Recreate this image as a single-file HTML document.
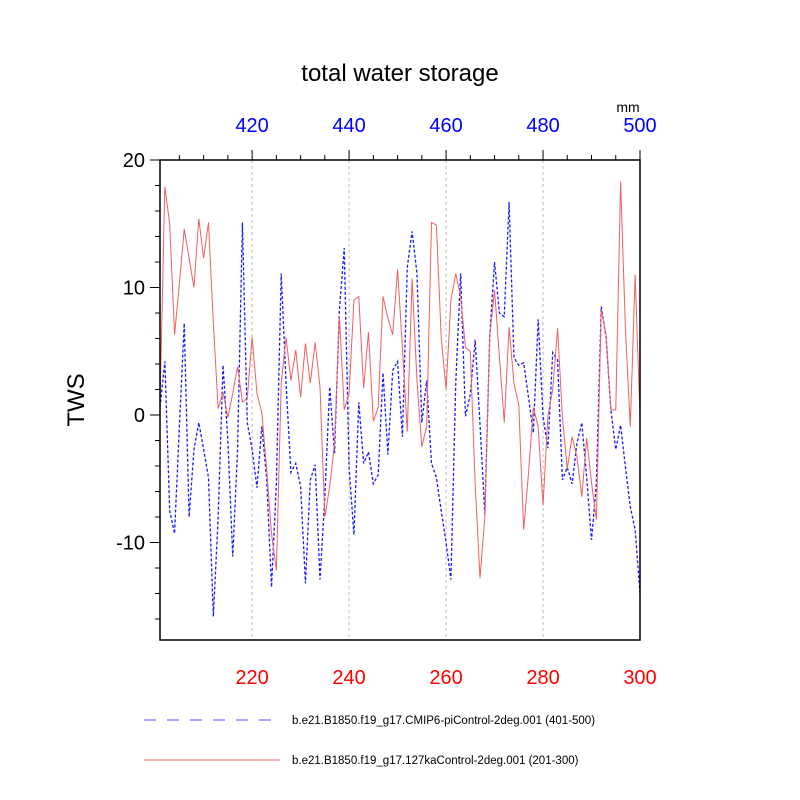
<!DOCTYPE html>
<html><head><meta charset="utf-8"><style>
html,body{margin:0;padding:0;background:#fff;}
svg{display:block;font-family:"Liberation Sans",sans-serif;}
</style></head><body>
<svg id="chart" width="800" height="800" viewBox="0 0 800 800">
<rect width="800" height="800" fill="#fff"/>
<text x="400" y="81" text-anchor="middle" font-size="24" fill="#000">total water storage</text>
<text x="628" y="112" text-anchor="middle" font-size="14" fill="#000">mm</text>
<text transform="translate(84,400) rotate(-90)" text-anchor="middle" font-size="24" fill="#000">TWS</text>
<g id="grid"></g>
<g id="series"></g>
<g id="axes"></g>
<g>
<line x1="144" y1="720" x2="274" y2="720" stroke="#4d4dff" stroke-width="1" stroke-dasharray="12,11"/>
<text x="292" y="724" font-size="11.5" fill="#000">b.e21.B1850.f19_g17.CMIP6-piControl-2deg.001 (401-500)</text>
<line x1="144" y1="760" x2="280" y2="760" stroke="#f07070" stroke-width="1"/>
<text x="292" y="764" font-size="11.5" fill="#000">b.e21.B1850.f19_g17.127kaControl-2deg.001 (201-300)</text>
</g>
</svg>
<script>
const redValues = [1,17.9,15,6.3,10.3,14.6,12.3,10,15.4,12.3,15.1,7.2,0.5,1.8,-0.2,1.7,3.8,1.0,1.3,6.1,1.7,0.2,-4.3,-9.3,-12.2,2.5,6.1,2.7,5.1,1.4,5.6,2.5,5.7,2.2,-8.0,-5.6,-2.2,7.8,0.4,1.7,9.0,9.3,2.1,6.5,-0.5,0.6,9.3,7.6,6.3,11.4,5.3,-1.3,10.7,2.7,-2.5,-0.9,15.1,14.9,6.1,2.0,9.0,11.1,9.3,5.3,5.0,-5.4,-12.8,-8.0,6.1,9.8,4.6,-0.6,6.9,2.5,0.8,-9.0,-4.6,0.6,-0.9,-7.1,-0.1,2.0,6.8,-0.2,-4.2,-1.7,-3.3,-6.4,-1.8,-5.3,-8.2,8.2,6.3,0.4,0.4,18.3,6.7,-0.9,11.0,-0.1];
const blueValues = [0.6,4.2,-7.5,-9.3,-0.9,7.2,-8.0,-2.7,-0.6,-2.7,-4.9,-15.8,-8.0,3.9,-2.0,-11.1,-2.7,15.1,-0.6,-2.7,-5.7,-0.9,-5.0,-13.5,-5.4,11.1,2.5,-4.5,-3.8,-5.6,-13.2,-5.1,-3.9,-12.9,-6.4,2.2,-3.0,8.2,13.1,-4.1,-9.4,1.0,-3.8,-2.9,-5.4,-4.7,3.3,-3.1,3.5,4.2,-1.7,11.6,14.4,11.1,-0.6,2.7,-3.8,-4.9,-7.5,-10.0,-12.9,2.5,11.1,-0.1,1.6,5.9,-0.7,-7.8,6.1,12.0,8.0,7.7,16.7,4.5,3.9,4.1,1.4,-1.4,7.5,-0.1,-2.6,4.9,4.3,-5.1,-4.1,-5.4,-2.2,-0.6,-4.9,-9.8,-5.4,8.5,6.1,0.4,-2.7,-0.8,-4.1,-7.2,-9.0,-14.0];
const bottomTickLabels = [220,240,260,280,300];
const topTickLabels = [420,440,460,480,500];
const yTickLabels = [20,10,0,-10];

const NS = "http://www.w3.org/2000/svg";
const L = 160, R = 640, T = 160, B = 640;
const X0 = 201, X1 = 300, Y0 = -17.647, Y1 = 20;
function xScale(v){ return L + (v - X0) / (X1 - X0) * (R - L); }
function yScale(v){ return B - (v - Y0) / (Y1 - Y0) * (B - T); }
function mk(tag, attrs, parent){ const e = document.createElementNS(NS, tag); for (const k in attrs) e.setAttribute(k, attrs[k]); parent.appendChild(e); return e; }

const grid = document.getElementById('grid');
const series = document.getElementById('series');
const axes = document.getElementById('axes');

bottomTickLabels.forEach(v => {
  if (v >= X1) return;
  const x = xScale(v);
  const g = mk('line', {x1:x, y1:T, x2:x, y2:B, stroke:'#bbb', 'stroke-width':1, 'stroke-dasharray':'3,3'}, grid);
  
  
});

function pathFor(vals){ return vals.map((v,i) => (i ? 'L' : 'M') + xScale(X0 + i).toFixed(2) + ' ' + yScale(v).toFixed(2)).join(' '); }
const blue = mk('path', {d: pathFor(blueValues), fill:'none', stroke:'#1a1aff', 'stroke-width':1.3, 'stroke-dasharray':'3,2'}, series);


const red = mk('path', {d: pathFor(redValues), fill:'none', stroke:'#f06060', 'stroke-width':1}, series);



const frame = mk('rect', {x:L, y:T, width:R-L, height:B-T, fill:'none', stroke:'#000', 'stroke-width':1.5}, axes);



// x ticks every 5 (minor), labels every 20
for (let v = 205; v <= 300; v += 5) {
  const x = xScale(v);
  const major = (v % 20 === 0);
  const len = major ? 10 : 5;
  const tb = mk('line', {x1:x, y1:T, x2:x, y2:T-len, stroke:'#000', 'stroke-width':1}, axes);
  
  
}
bottomTickLabels.forEach(v => {
  const t = mk('text', {x:xScale(v), y:684, 'text-anchor':'middle', 'font-size':20, fill:'#ff0000'}, axes);
  t.textContent = v;
  
  
});
topTickLabels.forEach((v,i) => {
  const t = mk('text', {x:xScale(bottomTickLabels[i]), y:132, 'text-anchor':'middle', 'font-size':20, fill:'#0000ff'}, axes);
  t.textContent = v;
  
  
});
// y ticks every 2 (minor), labels every 10
for (let v = -16; v <= 20; v += 2) {
  const y = yScale(v);
  const major = (v % 10 === 0);
  const len = major ? 10 : 5;
  const tk = mk('line', {x1:L, y1:y, x2:L-len, y2:y, stroke:'#000', 'stroke-width':1}, axes);
  
  
}
yTickLabels.forEach(v => {
  const t = mk('text', {x:145, y:yScale(v)+7, 'text-anchor':'end', 'font-size':20, fill:'#000'}, axes);
  t.textContent = v;
  
  
});
</script>
</body></html>
